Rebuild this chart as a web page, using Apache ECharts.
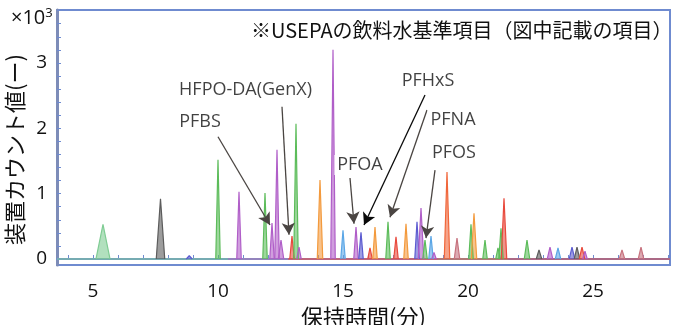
<!DOCTYPE html>
<html>
<head>
<meta charset="utf-8">
<script src="https://cdn.jsdelivr.net/npm/echarts@6/dist/echarts.min.js"></script>
<style>html,body{margin:0;padding:0;background:#fff}#c{width:681px;height:325px}</style>
</head>
<body>
<div id="c"></div>
<script>
// ---- data (x: retention time in minutes, y: counts ×10^3) ----
const xTickLabels = [5, 10, 15, 20, 25];
const xTickMarks = [4,5,6,7,8,9,10,11,12,13,14,15,16,17,18,19,20,21,22,23,24,25,26,27,28];
const yTickLabels = [0, 1, 2, 3];
const yTickMarks = [0,0.2,0.4,0.6,0.8,1,1.2,1.4,1.6,1.8,2,2.2,2.4,2.6,2.8,3,3.2,3.4,3.6,3.8];

const peakTime   = [5.4, 7.7, 8.85, 10.0, 10.84, 11.88, 12.16, 12.36, 12.52, 12.96, 13.12, 13.24, 14.08, 14.6, 15.0, 15.52, 15.72, 16.08, 16.28, 16.8, 17.12, 17.52, 17.96, 18.12, 18.28, 18.52, 18.64, 19.16, 19.56, 20.12, 20.24, 20.68, 21.2, 21.32, 21.44, 22.36, 22.84, 23.28, 23.6, 24.16, 24.36, 24.56, 24.68, 26.16, 26.92];
const peakHeight = [0.53, 0.92, 0.05, 1.52, 1.03, 1.01, 0.55, 1.67, 0.29, 0.35, 2.07, 0.18, 1.21, 3.2, 0.44, 0.49, 0.41, 0.17, 0.49, 0.57, 0.34, 0.54, 0.57, 0.78, 0.29, 0.35, 0.10, 1.33, 0.32, 0.53, 0.70, 0.29, 0.17, 0.47, 0.93, 0.29, 0.14, 0.18, 0.17, 0.18, 0.18, 0.18, 0.12, 0.14, 0.18];
const peakHalfWidth = [0.28, 0.17, 0.12, 0.09, 0.09, 0.09, 0.09, 0.09, 0.11, 0.09, 0.09, 0.09, 0.11, 0.09, 0.09, 0.09, 0.09, 0.09, 0.09, 0.09, 0.09, 0.09, 0.09, 0.11, 0.09, 0.09, 0.09, 0.11, 0.11, 0.09, 0.11, 0.09, 0.09, 0.09, 0.11, 0.11, 0.11, 0.11, 0.11, 0.11, 0.11, 0.11, 0.09, 0.11, 0.11];
const peakColor  = ['ltgreen','gray','indigo','green','purple','green','purple','purple','purple','red','green','purple','orange','purple','ltblue','purple','indigo','red','orange','green','red','orange','indigo','purple','green','ltblue','purple','orangered','mauve','green','orange','green','green','green','red','green','gray','purple','ltblue','indigo','gray','red','purple','mauve','mauve'];

const baseStart = [3.56, 10.4, 12.8];
const baseEnd   = [21.6, 18.8, 28.08];
const baseColor = ['ltgreen', 'purple', 'red'];

const annotNames = ['HFPO-DA(GenX)', 'PFBS', 'PFHxS', 'PFNA', 'PFOS', 'PFOA'];
const annotX = [11.1, 9.28, 18.4, 19.4, 19.44, 15.68];
const annotY = [2.59, 2.10, 2.73, 2.13, 1.62, 1.44];

const arrowFromX = [10.0, 12.56, 15.28, 18.28, 18.36, 18.68];
const arrowFromY = [1.87, 2.33, 1.24, 2.51, 2.28, 1.36];
const arrowToX   = [12.08, 12.84, 15.44, 15.84, 16.88, 18.32];
const arrowToY   = [0.52, 0.37, 0.54, 0.52, 0.64, 0.32];
const arrowColor = ['gray', 'gray', 'gray', 'black', 'gray', 'gray'];

const titleText = '※USEPAの飲料水基準項目（図中記載の項目）';
const xName = '保持時間(分)';
const yName = '装置カウント値(ー)';

// ---- styles ----
const palette = {
  ltgreen: '#7fcc93', green: '#5cbc5a', gray: '#5c5c5c', purple: '#b05ec8', red: '#e8493c',
  orange: '#f39a3d', orangered: '#f0663a', ltblue: '#5aa6e6', indigo: '#5b5bd0', mauve: '#c7727e',
  black: '#111111'
};
const arrowPal = { gray: '#4a4542', black: '#0a0a0a' };
const FONT = '"Open Sans", "Noto Sans CJK JP", sans-serif';
const CJK = '"Noto Sans CJK JP", "Open Sans", sans-serif';
const frame = '#6f8bd0';

const series = [];
baseStart.forEach((s, i) => {
  series.push({
    type: 'line', silent: true, symbol: 'none', z: 1,
    data: [[s, 0], [baseEnd[i], 0]],
    lineStyle: { color: palette[baseColor[i]], width: 1.2 }
  });
});
peakTime.forEach((t, i) => {
  const c = palette[peakColor[i]];
  series.push({
    type: 'line', silent: true, symbol: 'none', z: 2,
    data: [[t - peakHalfWidth[i], 0], [t, peakHeight[i]], [t + peakHalfWidth[i], 0]],
    lineStyle: { color: c, width: 1.2 },
    areaStyle: { color: c, opacity: 0.6 }
  });
});
// arrows
series.push({
  type: 'line', data: [], silent: true, z: 5,
  markLine: {
    silent: true, animation: false,
    symbol: ['none', 'arrow'], symbolSize: [10, 12],
    label: { show: false },
    data: arrowFromX.map((x, i) => [
      { coord: [x, arrowFromY[i]], lineStyle: { color: arrowPal[arrowColor[i]], width: 1.3, type: 'solid' } },
      { coord: [arrowToX[i], arrowToY[i]] }
    ])
  }
});
// annotation labels
series.push({
  type: 'scatter', silent: true, z: 10, symbolSize: 0,
  data: annotNames.map((n, i) => [annotX[i], annotY[i], n]),
  label: {
    show: true, position: 'inside', formatter: p => p.value[2],
    color: '#111', fontSize: 18, fontFamily: FONT,
    backgroundColor: '#fff', padding: [1, 3]
  }
});

const chart = echarts.init(document.getElementById('c'));
chart.setOption({
  animation: false,
  backgroundColor: '#fff',
  title: {
    text: titleText, left: 246, top: 15,
    textStyle: { fontSize: 20, fontWeight: 'normal', color: '#111', fontFamily: CJK }
  },
  graphic: [{
    type: 'text', left: 11, top: 7,
    style: {
      text: '×10{s|3}', fontSize: 20, fill: '#111', fontFamily: FONT,
      rich: { s: { fontSize: 13, verticalAlign: 'top', fill: '#111', fontFamily: FONT, padding: [0, 0, 9, 0] } }
    }
  }],
  grid: { left: 57, right: 11, top: 10, bottom: 60, show: true, borderColor: frame, borderWidth: 2, backgroundColor: '#fff', outerBoundsMode: 'none', containLabel: false },
  xAxis: {
    type: 'value', min: 3.56, max: 28.08,
    name: xName, nameLocation: 'middle', nameGap: 37,
    nameTextStyle: { fontSize: 22, color: '#111', fontFamily: CJK },
    axisLine: { show: true, lineStyle: { color: frame, width: 2 } },
    axisTick: { show: true, inside: true, length: 4, customValues: xTickMarks, lineStyle: { color: frame } },
    axisLabel: { customValues: xTickLabels, fontSize: 19, color: '#111', fontFamily: FONT, margin: 17 },
    splitLine: { show: false }
  },
  yAxis: {
    type: 'value', min: -0.092, max: 3.81,
    name: yName, nameLocation: 'middle', nameGap: 22, nameRotate: 90,
    nameTextStyle: { fontSize: 22, color: '#111', fontFamily: CJK, padding: [0, 24, 0, 0] },
    axisLine: { show: true, lineStyle: { color: '#7d8cb8', width: 3 } },
    axisTick: { show: true, inside: true, length: 4, customValues: yTickMarks, lineStyle: { color: frame } },
    axisLabel: { customValues: yTickLabels, fontSize: 19, color: '#111', fontFamily: FONT, margin: 10 },
    splitLine: { show: false }
  },
  series: series
});
</script>
</body>
</html>
